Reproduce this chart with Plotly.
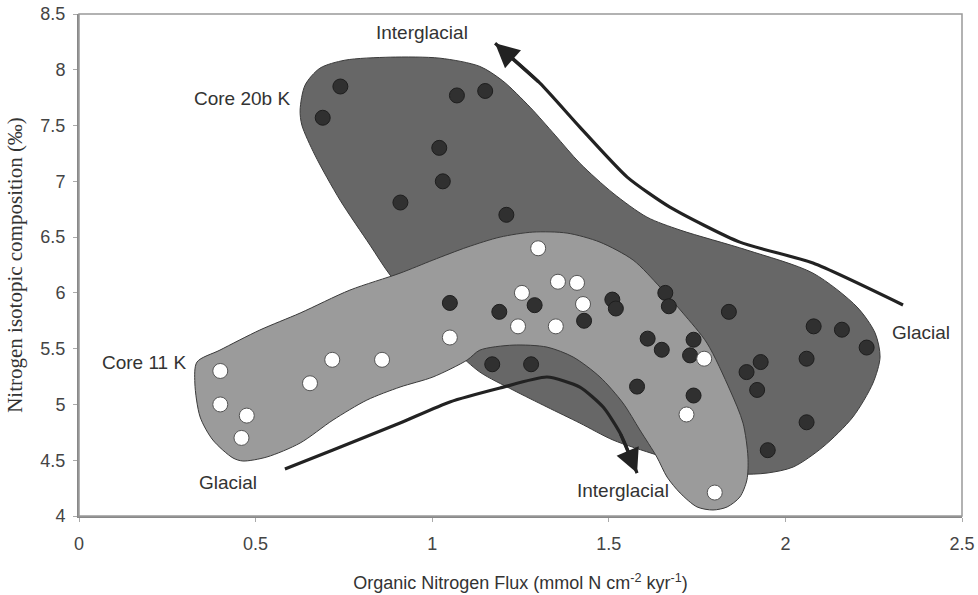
import plotly.graph_objects as go

# Core 20b K samples (dark dots)
core20_x = [0.69, 0.74, 1.07, 1.15, 1.02, 1.03, 0.91, 1.21, 1.05, 1.19, 1.29, 1.43,
            1.51, 1.52, 1.66, 1.67, 1.61, 1.65, 1.74, 1.73, 1.74, 1.58, 1.17, 1.28,
            1.84, 2.08, 2.16, 2.23, 2.06, 1.93, 1.89, 1.92, 2.06, 1.95]
core20_y = [7.57, 7.85, 7.77, 7.81, 7.30, 7.00, 6.81, 6.70, 5.91, 5.83, 5.89, 5.75,
            5.94, 5.86, 6.00, 5.88, 5.59, 5.49, 5.58, 5.44, 5.08, 5.16, 5.36, 5.36,
            5.83, 5.70, 5.67, 5.51, 5.41, 5.38, 5.29, 5.13, 4.84, 4.59]

# Core 11 K samples (white dots)
core11_x = [0.40, 0.40, 0.475, 0.46, 0.654, 0.717, 0.858, 1.05, 1.30, 1.356, 1.41,
            1.254, 1.427, 1.243, 1.35, 1.77, 1.72, 1.80]
core11_y = [5.30, 5.00, 4.90, 4.70, 5.19, 5.40, 5.40, 5.60, 6.40, 6.10, 6.09,
            6.00, 5.90, 5.70, 5.70, 5.41, 4.91, 4.21]

# outlines of the shaded fields
field20_x = [0.994, 0.881, 0.824, 0.739, 0.668, 0.631, 0.626, 0.640, 0.682, 0.753, 0.881,
             1.022, 1.135, 1.200, 1.277, 1.348, 1.418, 1.512, 1.608, 1.702, 1.891,
             2.078, 2.203, 2.254, 2.268, 2.248, 2.191, 2.106, 2.022, 1.948, 1.871,
             1.758, 1.636, 1.512, 1.418, 1.325, 1.229, 1.135, 1.065, 0.994]
field20_y = [5.756, 6.159, 6.428, 6.832, 7.235, 7.504, 7.638, 7.862, 8.014, 8.086, 8.113,
             8.104, 8.030, 7.900, 7.665, 7.414, 7.163, 6.894, 6.679, 6.563, 6.384,
             6.177, 5.873, 5.640, 5.425, 5.192, 4.887, 4.618, 4.439, 4.385, 4.376,
             4.430, 4.547, 4.681, 4.833, 4.977, 5.129, 5.290, 5.487, 5.756]

field11_x = [0.334, 0.399, 0.512, 0.626, 0.767, 0.909, 1.002, 1.099, 1.192, 1.285, 1.382,
             1.475, 1.569, 1.645, 1.710, 1.778, 1.843, 1.880, 1.894, 1.891, 1.871, 1.835,
             1.795, 1.750, 1.702, 1.665, 1.636, 1.588, 1.540, 1.475, 1.399, 1.325, 1.229,
             1.135, 1.099, 1.002, 0.909, 0.815, 0.719, 0.626, 0.532, 0.464, 0.436, 0.379,
             0.343, 0.328, 0.334]
field11_y = [5.380, 5.487, 5.667, 5.819, 6.025, 6.177, 6.294, 6.410, 6.500, 6.545, 6.536,
             6.455, 6.294, 6.052, 5.819, 5.550, 5.129, 4.833, 4.529, 4.323, 4.170, 4.081,
             4.054, 4.081, 4.206, 4.349, 4.529, 4.771, 5.013, 5.246, 5.425, 5.514, 5.532,
             5.487, 5.398, 5.246, 5.156, 5.039, 4.860, 4.654, 4.529, 4.493, 4.520, 4.681,
             4.887, 5.192, 5.380]

# trend arrows (last point is the arrow tip)
trend20_x = [2.333, 2.078, 1.871, 1.673, 1.552, 1.418, 1.305, 1.178]
trend20_y = [5.891, 6.267, 6.455, 6.769, 7.038, 7.486, 7.880, 8.238]
trend11_x = [0.583, 0.719, 0.909, 1.050, 1.192, 1.325, 1.418, 1.484, 1.532, 1.580]
trend11_y = [4.421, 4.591, 4.833, 5.022, 5.147, 5.246, 5.156, 4.977, 4.744, 4.385]

labels = ["Interglacial", "Core 20b K", "Core 11 K", "Glacial", "Interglacial", "Glacial"]
label_x = [0.971, 0.462, 0.184, 0.422, 1.540, 2.384]
label_y = [8.33, 7.746, 5.38, 4.296, 4.233, 5.649]

fig = go.Figure()

fig.add_trace(go.Scatter(x=field20_x, y=field20_y, mode="lines", fill="toself",
                         fillcolor="#676767", line=dict(color="#3a3a3a", width=1, shape="spline", smoothing=0.8),
                         hoverinfo="skip", showlegend=False))
fig.add_trace(go.Scatter(x=field11_x, y=field11_y, mode="lines", fill="toself",
                         fillcolor="#9b9b9b", line=dict(color="#3a3a3a", width=1, shape="spline", smoothing=0.8),
                         hoverinfo="skip", showlegend=False))

for tx, ty in [(trend20_x, trend20_y), (trend11_x, trend11_y)]:
    fig.add_trace(go.Scatter(x=tx, y=ty, mode="lines",
                             line=dict(color="#222222", width=3.2, shape="spline", smoothing=0.6),
                             hoverinfo="skip", showlegend=False))
    # arrowhead on the last segment
    fig.add_annotation(x=tx[-1], y=ty[-1], ax=tx[-2], ay=ty[-2], xref="x", yref="y",
                       axref="x", ayref="y", showarrow=True, arrowhead=2, arrowsize=1.5,
                       arrowwidth=3.2, arrowcolor="#222222", text="")

fig.add_trace(go.Scatter(x=core20_x, y=core20_y, mode="markers", name="Core 20b K",
                         marker=dict(size=15, color="#303030", line=dict(color="#1e1e1e", width=1)),
                         showlegend=False))
fig.add_trace(go.Scatter(x=core11_x, y=core11_y, mode="markers", name="Core 11 K",
                         marker=dict(size=15, color="#ffffff", line=dict(color="#555555", width=1)),
                         showlegend=False))

for t, lx, ly in zip(labels, label_x, label_y):
    fig.add_annotation(x=lx, y=ly, text=t, showarrow=False,
                       font=dict(family="Liberation Sans, Arial", size=19, color="#333333"))

# light frame round the plot area
fig.add_shape(type="rect", xref="paper", yref="paper", x0=0, y0=0, x1=1, y1=1,
              line=dict(color="#999999", width=1.5), layer="above")

fig.update_layout(
    width=978, height=595,
    margin=dict(l=79, r=16, t=14, b=79),
    plot_bgcolor="white", paper_bgcolor="white",
    font=dict(family="Liberation Sans, Arial", size=18, color="#444444"),
    xaxis=dict(range=[0, 2.5], tickvals=[0, 0.5, 1, 1.5, 2, 2.5],
               ticktext=["0", "0.5", "1", "1.5", "2", "2.5"], automargin=False,
               showgrid=False, zeroline=False, showline=True, linecolor="#888888", linewidth=2,
               ticks="outside", ticklen=4, tickcolor="#aaaaaa", ticklabelstandoff=6,
               ticklabeloverflow="allow",
               title=dict(text="Organic Nitrogen Flux (mmol N cm<sup>-2</sup> kyr<sup>-1</sup>)",
                          font=dict(size=18, color="#333333"), standoff=24)),
    yaxis=dict(range=[4, 8.5], tickvals=[4, 4.5, 5, 5.5, 6, 6.5, 7, 7.5, 8, 8.5],
               ticktext=["4", "4.5", "5", "5.5", "6", "6.5", "7", "7.5", "8", "8.5"], automargin=False,
               showgrid=False, zeroline=False, showline=True, linecolor="#888888", linewidth=2,
               ticks="outside", ticklen=4, tickcolor="#aaaaaa", ticklabelstandoff=4,
               ticklabeloverflow="allow",
               title=dict(text="Nitrogen isotopic composition (‰)",
                          font=dict(family="Liberation Serif, Times New Roman", size=21, color="#333333"),
                          standoff=12)),
)

# drop the page's default body margin so the figure sits at the window corner
fig.write_html("out.html", config={"displayModeBar": False},
               post_script="document.body.style.margin='0px';")
